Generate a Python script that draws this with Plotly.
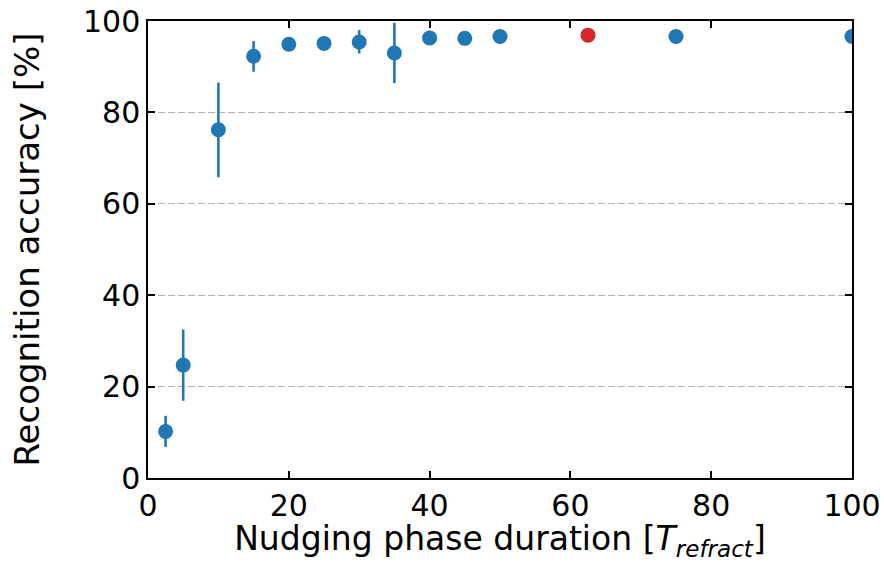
import plotly.graph_objects as go

x_vals = [2.5, 5, 10, 15, 20, 25, 30, 35, 40, 45, 50, 75, 100]
y_vals = [10.2, 24.7, 76.2, 92.3, 94.9, 95.1, 95.4, 93.0, 96.3, 96.2, 96.6, 96.6, 96.6]
err_plus = [3.4, 7.8, 10.3, 3.3, 0.4, 0.4, 2.6, 6.6, 0.4, 0.4, 0.4, 0.4, 0.4]
err_minus = [3.4, 7.8, 10.4, 3.4, 0.4, 0.4, 2.5, 6.6, 0.4, 0.4, 0.4, 0.4, 0.4]

red_x = [62.5]
red_y = [96.9]

x_ticks = [0, 20, 40, 60, 80, 100]
y_ticks = [0, 20, 40, 60, 80, 100]

blue = "#1f77b4"
red = "#d62728"
font = "DejaVu Sans"

fig = go.Figure()
fig.add_trace(go.Scatter(
    x=x_vals, y=y_vals, mode="markers",
    marker=dict(color=blue, size=15),
    error_y=dict(type="data", array=err_plus, arrayminus=err_minus,
                 color=blue, thickness=2.6, width=0),
    showlegend=False,
))
fig.add_trace(go.Scatter(
    x=red_x, y=red_y, mode="markers",
    marker=dict(color=red, size=15),
    showlegend=False,
))

axis_common = dict(
    showline=True, linecolor="black", linewidth=1.5, mirror="ticks",
    ticks="inside", ticklen=7, tickwidth=1.5, tickcolor="black",
    tickfont=dict(family=font, size=30, color="black"),
    zeroline=False, automargin=False,
)

fig.update_xaxes(
    range=[0, 100], tickvals=x_ticks, ticktext=[str(v) for v in x_ticks],
    showgrid=False,
    title=dict(text="Nudging phase duration [<i>T</i><sub><i>refract</i></sub>]",
               font=dict(family=font, size=33, color="black"), standoff=3),
    **axis_common,
)
fig.update_yaxes(
    range=[0, 100], tickvals=y_ticks, ticktext=[str(v) for v in y_ticks],
    showgrid=True, gridcolor="#b0b0b0", griddash="7px,3px", gridwidth=1,
    title=dict(text="Recognition accuracy [%]",
               font=dict(family=font, size=34, color="black"), standoff=33),
    **axis_common,
)

fig.update_layout(
    width=884, height=562,
    margin=dict(l=148, r=32, t=21, b=84),
    plot_bgcolor="white", paper_bgcolor="white",
    font=dict(family=font, color="black"),
)

fig.write_html(
    "out.html",
    config={"displayModeBar": False},
    post_script="document.body.style.margin='0';document.body.style.overflow='hidden';",
)
